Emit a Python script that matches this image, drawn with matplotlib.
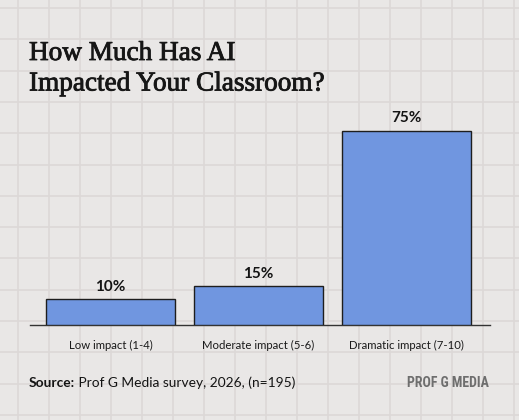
import matplotlib
matplotlib.use("Agg")
import matplotlib.pyplot as plt
import matplotlib.patheffects as pe

# ---- data ----
categories = ["Low impact (1-4)", "Moderate impact (5-6)", "Dramatic impact (7-10)"]
values = [10, 15, 75]
value_labels = ["10%", "15%", "75%"]
title_lines = ["How Much Has AI", "Impacted Your Classroom?"]
source_bold = "Source:"
source_rest = " Prof G Media survey, 2026, (n=195)"
brand = "PROF G MEDIA"

W, H = 519, 420
DPI = 100
fig = plt.figure(figsize=(W / DPI, H / DPI), dpi=DPI)
BG = "#e9e7e6"
GRID = "#dcd8d7"
fig.patch.set_facecolor(BG)

# background grid (figure pixel coords)
bg = fig.add_axes([0, 0, 1, 1])
bg.set_xlim(0, W)
bg.set_ylim(H, 0)
bg.axis("off")
bg.set_facecolor(BG)
gx = 18.0
while gx < W:
    bg.axvline(gx, color=GRID, lw=1.2, zorder=0)
    gx += 31.0
gy = 8.0
while gy < H:
    bg.axhline(gy, color=GRID, lw=1.2, zorder=0)
    gy += 31.3

# ---- plot axes ----
x0, x1 = 30, 490
base_y, top_y = 325, 100
ax = fig.add_axes([x0 / W, (H - base_y) / H, (x1 - x0) / W, (base_y - top_y) / H])
ax.patch.set_alpha(0)
step = 148.0
xmin = (x0 - 110.5) / step
xmax = (x1 - 110.5) / step
ax.set_xlim(xmin, xmax)
ax.set_ylim(0, (base_y - top_y) / 2.587)

pos = list(range(len(categories)))
ax.bar(pos, values, width=0.872, color="#7096e0", edgecolor="#1e1e1e",
       linewidth=1.0, zorder=3)

for sp in ["top", "right", "left"]:
    ax.spines[sp].set_visible(False)
ax.spines["bottom"].set_color("#333333")
ax.spines["bottom"].set_linewidth(1.0)
ax.set_yticks([])
ax.set_xticks([])

for p, v, lab, cat in zip(pos, values, value_labels, categories):
    ax.annotate(lab, (p, v), xytext=(0, 6.2), textcoords="offset points",
                ha="center", va="baseline", fontsize=11, fontweight="bold",
                family=["Lato", "DejaVu Sans"], color="#141414")
    ax.annotate(cat, (p, 0), xytext=(0, -17.3), textcoords="offset points",
                ha="center", va="baseline", fontsize=8.2,
                family=["Lato", "DejaVu Sans"], color="#1a1a1a")

# ---- title ----
for i, line in enumerate(title_lines):
    fig.text(29 / W, 1 - (60 + 30.5 * i) / H, line, ha="left", va="baseline",
             fontsize=19.6, family=["Liberation Serif", "DejaVu Serif"],
             color="#161616",
             path_effects=[pe.withStroke(linewidth=0.6, foreground="#161616")])

# ---- source ----
t1 = fig.text(29 / W, 1 - 387 / H, source_bold, ha="left", va="baseline",
              fontsize=9.9, fontweight="bold", family=["Lato", "DejaVu Sans"],
              color="#141414")
fig.canvas.draw()
r = fig.canvas.get_renderer()
bb = t1.get_window_extent(renderer=r)
fig.text(bb.x1 / W, 1 - 387 / H, source_rest, ha="left", va="baseline",
         fontsize=9.9, family=["Lato", "DejaVu Sans"], color="#141414")

fig.text(489 / W, 1 - 387 / H, brand, ha="right", va="baseline",
         fontsize=10, fontweight="bold",
         family=["Roboto Condensed", "Liberation Sans Narrow", "Roboto", "DejaVu Sans"],
         color="#6e6e6e")

fig.savefig("out.png", dpi=DPI, facecolor=BG)
